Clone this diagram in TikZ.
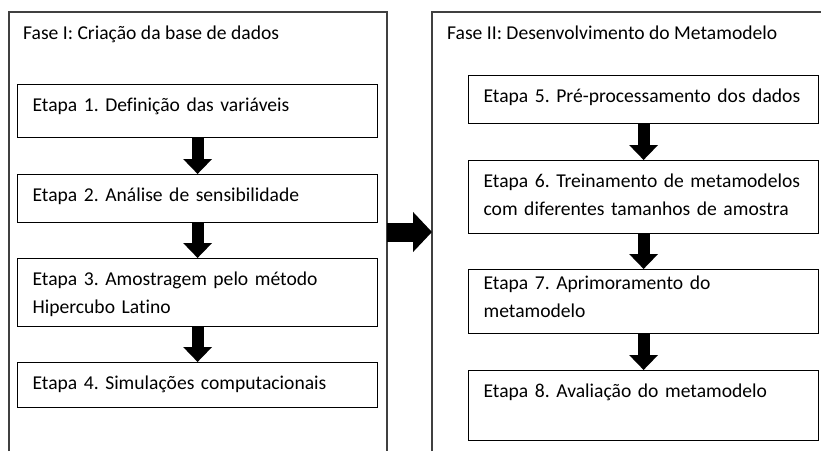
\documentclass[tikz,border=0pt]{standalone}
\usepackage{fontspec}
\setmainfont{Carlito}[Ligatures=NoCommon]
\usetikzlibrary{arrows.meta}
\definecolor{molduracinza}{HTML}{404040}
\newcommand{\etapafont}{\fontsize{19.6}{28}\selectfont\frenchspacing}
\tikzset{
    fase/.style={draw=molduracinza, line width=1.5pt},
    titulo/.style={anchor=base west, inner sep=0pt, font=\etapafont},
    stepbox/.style={draw, line width=1.2pt, anchor=north west, align=left,
        inner xsep=15pt, inner ysep=0pt, text height=27pt, text depth=#1,
        font=\etapafont},
    seta/.style={line width=12pt, -{Triangle[length=15pt,width=28pt]}},
    setagrande/.style={line width=19pt, -{Triangle[length=19pt,width=39pt]}}
}
\begin{document}
\begin{tikzpicture}[x=1pt, y=-1pt]
                        \useasboundingbox (0,0) rectangle (821,451);
                        % molduras das fases
                        \draw [fase] (9,451) -- (9,12) -- (387,12) -- (387,451);
                        \draw [fase] (432,451) -- (432,12) -- (821,12);
                        \node [titulo] (fase1) at (23,39){Fase I: Criação da base de dados};
                        \node [titulo] (fase2) at (447,39){Fase II: Desenvolvimento do Metamodelo};
                        % fase I
                        \node [stepbox=26pt, text width=330pt] (e1) at (17,84){Etapa 1. Definição das variáveis};
                        \node [stepbox=21pt, text width=330pt] (e2) at (17,174){Etapa 2. Análise de sensibilidade};
                        \node [stepbox=41pt, text width=330pt] (e3) at (17,258){Etapa 3. Amostragem pelo método\\Hipercubo Latino};
                        \node [stepbox=18pt, text width=330pt] (e4) at (17,362){Etapa 4. Simulações computacionais};
                        \draw [seta] (e1.south) -- (e2.north);
                        \draw [seta] (e2.south) -- (e3.north);
                        \draw [seta] (e3.south) -- (e4.north);
                        % fase II
                        \node [stepbox=21pt, text width=320pt] (e5) at (468,75){Etapa 5. Pré-processamento dos dados};
                        \node [stepbox=46pt, text width=320pt] (e6) at (468,160){Etapa 6. Treinamento de metamodelos\\com diferentes tamanhos de amostra};
                        \node [stepbox=44pt, text width=320pt, text height=20pt] (e7) at (468,269){Etapa 7. Aprimoramento do\\metamodelo};
                        \node [stepbox=43pt, text width=320pt] (e8) at (468,370){Etapa 8. Avaliação do metamodelo};
                        \draw [seta] (e5.south) -- (e6.north);
                        \draw [seta] (e6.south) -- (e7.north);
                        \draw [seta] (e7.south) -- (e8.north);
                        % passagem entre as fases
                        \coordinate (saida1) at (387,232);
                        \coordinate (entrada2) at (432,232);
                        \draw [setagrande] (saida1) -- (entrada2);
                    \end{tikzpicture}
\end{document}
